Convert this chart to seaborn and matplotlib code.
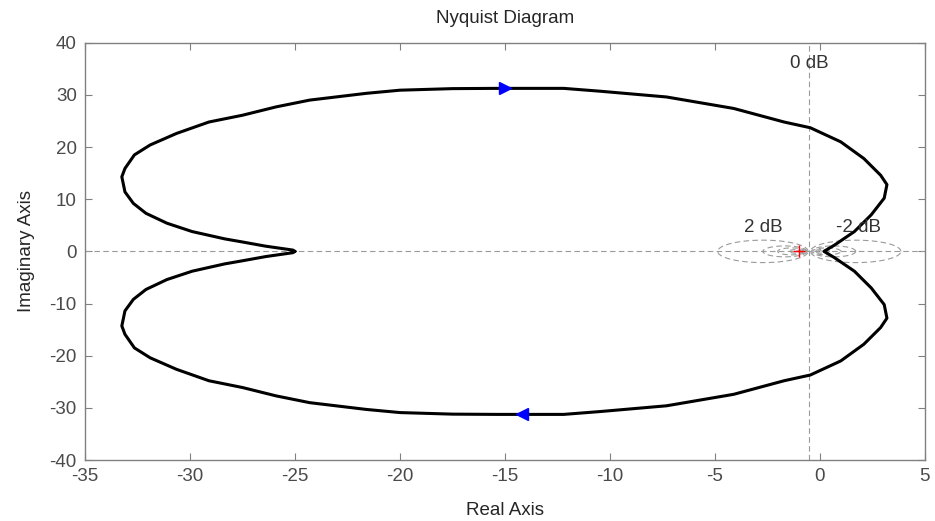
import numpy as np
import pandas as pd
import matplotlib
matplotlib.use("Agg")
import matplotlib.pyplot as plt
import seaborn as sns

# upper (positive-frequency) branch, from the w=0 tip to the w->inf end near the origin
re_upper = [-25.0, -25.1, -26.4, -27.5, -28.35, -29.9, -31.1, -32.1, -32.7, -33.1,
            -33.25, -33.1, -32.65, -31.9, -30.65, -29.1, -27.5, -25.9, -24.3, -21.6,
            -20.0, -17.5, -15.4, -12.2, -10.45, -7.3, -4.1, -1.7, -0.45, 1.0,
            2.1, 2.9, 3.2, 3.07, 2.45, 1.65, 0.7, 0.2]
im_upper = [0.0, 0.25, 1.0, 1.8, 2.4, 3.8, 5.4, 7.3, 9.2, 11.4,
            14.3, 15.9, 18.5, 20.4, 22.6, 24.8, 26.1, 27.7, 29.0, 30.3,
            30.9, 31.2, 31.25, 31.25, 30.7, 29.6, 27.4, 24.8, 23.7, 21.0,
            17.8, 14.6, 12.8, 10.2, 7.0, 3.8, 1.2, 0.0]

# direction arrows (x, y)
arrow_top = (-15.0, 31.25)
arrow_bottom = (-14.2, -31.1)

# M-circle grid (dB) and labelled ones
m_db = [-20, -10, -6, -4, -2, 2, 4, 6, 10, 20]
label_db = ["0 dB", "2 dB", "-2 dB"]
label_pos = [(-0.5, 36.1), (-2.67, 4.5), (1.86, 4.5)]

x_ticks = [-35, -30, -25, -20, -15, -10, -5, 0, 5]
y_ticks = [-40, -30, -20, -10, 0, 10, 20, 30, 40]

sns.set_style("ticks")
plt.rcParams['font.family'] = ['Liberation Sans', 'DejaVu Sans']
plt.rcParams['axes.unicode_minus'] = False

fs = 13.5
fig = plt.figure(figsize=(9.35, 5.21), dpi=100)
ax = fig.add_axes([0.091, 0.117, 0.898, 0.801])

# grid: M circles
grid_kw = dict(color="#9a9a9a", lw=0.8, ls=(0, (5, 3)))
t = np.linspace(0, 2 * np.pi, 200)
for db in m_db:
    M = 10 ** (db / 20)
    cx = -M ** 2 / (M ** 2 - 1)
    r = abs(M / (M ** 2 - 1))
    ax.plot(cx + r * np.cos(t), r * np.sin(t), **grid_kw)
ax.axhline(0, **grid_kw)
ax.axvline(-0.5, **grid_kw)

# closed Nyquist contour: upper branch then mirrored lower branch
df = pd.DataFrame({
    "re": re_upper + re_upper[::-1],
    "im": im_upper + [-v for v in im_upper[::-1]],
})
sns.lineplot(data=df, x="re", y="im", sort=False, estimator=None,
             color="black", lw=2.2, solid_joinstyle="round", ax=ax)

ax.plot(*arrow_top, marker=">", color="blue", ms=8, mec="blue")
ax.plot(*arrow_bottom, marker="<", color="blue", ms=8, mec="blue")
ax.plot(-1, 0, marker="+", color="red", ms=9, mew=1)

for txt, (lx, ly) in zip(label_db, label_pos):
    ax.text(lx, ly, txt, ha="center", va="center", fontsize=fs, color="#333333")

ax.set_xlim(-35, 5)
ax.set_ylim(-40, 40)
ax.set_xticks(x_ticks)
ax.set_yticks(y_ticks)
ax.tick_params(direction="in", length=5, top=True, right=True, pad=6,
               labelsize=fs, labelcolor="#4a4a4a", color="#808080")
for s in ax.spines.values():
    s.set_color("#808080")
    s.set_linewidth(1)
ax.set_xlabel("Real Axis", fontsize=fs, labelpad=12)
ax.set_ylabel("Imaginary Axis", fontsize=fs, labelpad=10)
ax.set_title("Nyquist Diagram", fontsize=fs, pad=14)

fig.savefig("out.png", dpi=100)
